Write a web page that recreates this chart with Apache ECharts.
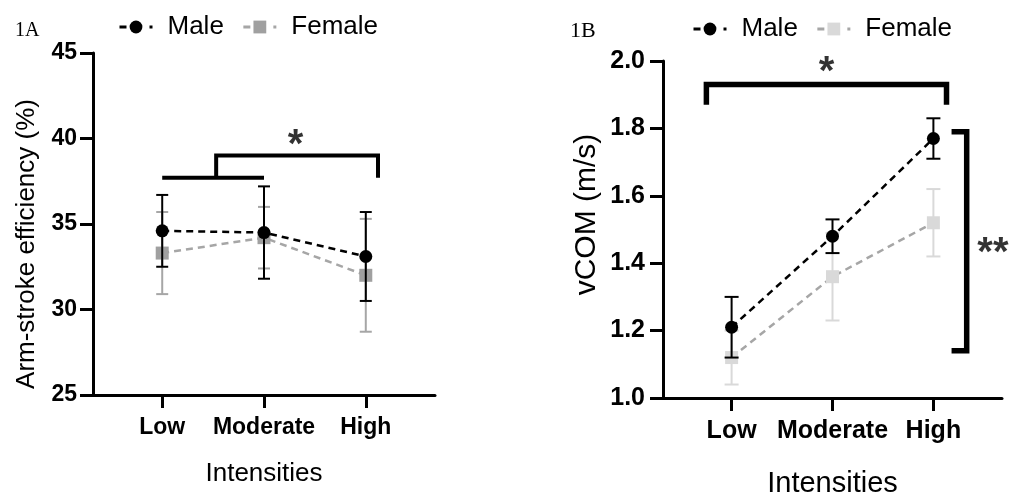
<!DOCTYPE html>
<html>
<head>
<meta charset="utf-8">
<script src="https://cdn.jsdelivr.net/npm/echarts@6/dist/echarts.min.js"></script>
<style>
  html, body { margin: 0; padding: 0; background: #fff; }
  #main { width: 1015px; height: 495px; }
</style>
</head>
<body>
<div id="main"></div>
<script>
// 强度分类
const categories = ['Low', 'Moderate', 'High'];
const xPos = [1, 2, 3];

// 1A 划臂效率 (%)
const maleEffMean = [34.6, 34.5, 33.1];
const maleEffSd = [2.1, 2.7, 2.6];
const femaleEffMean = [33.3, 34.2, 32.0];
const femaleEffSd = [2.4, 1.8, 3.3];
const effTicks = [25, 30, 35, 40, 45];

// 1B vCOM (m/s)
const maleVcomMean = [1.21, 1.48, 1.77];
const maleVcomSd = [0.09, 0.05, 0.06];
const femaleVcomMean = [1.12, 1.36, 1.52];
const femaleVcomSd = [0.08, 0.13, 0.10];
const vcomTicks = [1.0, 1.2, 1.4, 1.6, 1.8, 2.0];

// 显著性标记
const bracketA1 = [[1.0, 37.7], [2.0, 37.7]];
const bracketA2 = [[1.53, 37.7], [1.53, 39.0], [3.12, 39.0], [3.12, 37.7]];
const bracketB1 = [[0.75, 1.87], [0.75, 1.93], [3.13, 1.93], [3.13, 1.87]];
const bracketB2 = [[3.18, 1.79], [3.33, 1.79], [3.33, 1.14], [3.18, 1.14]];
const starsA = [[2.31, 40.1, '*']];
const starsB = [[1.94, 1.99, '*'], [3.59, 1.454, '**']];

const FONT = 'Liberation Sans, Arial, sans-serif';

const chart = echarts.init(document.getElementById('main'));

function errorBars(name, idx, means, sds, color, capW, z) {
    return {
        type: 'custom',
        name: name,
        xAxisIndex: idx,
        yAxisIndex: idx,
        z: z,
        silent: true,
        data: means.map((m, i) => [xPos[i], m - sds[i], m + sds[i]]),
        encode: { x: 0, y: [1, 2] },
        renderItem: function(params, api) {
            const lo = api.coord([api.value(0), api.value(1)]);
            const hi = api.coord([api.value(0), api.value(2)]);
            const h = capW / 2;
            const st = { stroke: color, lineWidth: 2 };
            return {
                type: 'group',
                children: [
                    { type: 'line', shape: { x1: lo[0], y1: lo[1], x2: hi[0], y2: hi[1] }, style: st },
                    { type: 'line', shape: { x1: hi[0] - h, y1: hi[1], x2: hi[0] + h, y2: hi[1] }, style: st },
                    { type: 'line', shape: { x1: lo[0] - h, y1: lo[1], x2: lo[0] + h, y2: lo[1] }, style: st }
                ]
            };
        }
    };
}

function meanLine(name, idx, means, lineColor, markColor, symbol, z) {
    return {
        type: 'line',
        name: name,
        xAxisIndex: idx,
        yAxisIndex: idx,
        z: z,
        data: means.map((m, i) => [xPos[i], m]),
        symbol: symbol,
        symbolSize: 13,
        lineStyle: { color: lineColor, width: 2.5, type: [7, 5] },
        itemStyle: { color: markColor },
        emphasis: { disabled: true }
    };
}

function bracket(idx, pts, width) {
    return {
        type: 'line',
        xAxisIndex: idx,
        yAxisIndex: idx,
        data: pts,
        symbol: 'none',
        silent: true,
        z: 6,
        lineStyle: { color: '#000', width: width, join: 'miter', cap: 'butt' }
    };
}

function stars(idx, pts) {
    return {
        type: 'scatter',
        xAxisIndex: idx,
        yAxisIndex: idx,
        data: pts,
        symbolSize: 1,
        silent: true,
        itemStyle: { color: 'rgba(0,0,0,0)' },
        label: {
            show: true,
            position: 'inside',
            formatter: p => p.value[2],
            fontFamily: FONT,
            fontWeight: 'bold',
            fontSize: 40,
            color: '#000',
            textBorderWidth: 0,
            offset: [0, 9]
        }
    };
}

function xAxisCfg(idx, labelSize, margin, nameSize, nameGap) {
    return {
        gridIndex: idx,
        type: 'value',
        min: 0.32,
        max: 3.68,
        splitLine: { show: false },
        axisLine: { lineStyle: { color: '#000', width: 3 } },
        axisTick: { customValues: xPos, length: 13, lineStyle: { width: 3, color: '#000' } },
        axisLabel: {
            customValues: xPos,
            formatter: v => categories[Math.round(v) - 1],
            fontFamily: FONT, fontWeight: 'bold', fontSize: labelSize, color: '#000', margin: margin
        },
        name: 'Intensities',
        nameLocation: 'middle',
        nameGap: nameGap,
        nameTextStyle: { fontFamily: FONT, fontSize: nameSize, color: '#000' }
    };
}

function yAxisCfg(idx, ticks, interval, name, labelSize, margin, nameSize, nameGap, namePad, digits) {
    return {
        gridIndex: idx,
        type: 'value',
        min: ticks[0],
        max: ticks[ticks.length - 1],
        interval: interval,
        splitLine: { show: false },
        axisLine: { show: true, lineStyle: { color: '#000', width: 3 } },
        axisTick: { show: true, length: 13, lineStyle: { width: 3, color: '#000' } },
        axisLabel: {
            formatter: v => v.toFixed(digits),
            fontFamily: FONT, fontWeight: 'bold', fontSize: labelSize, color: '#000', margin: margin
        },
        name: name,
        nameLocation: 'middle',
        nameGap: nameGap,
        nameTextStyle: { fontFamily: FONT, fontSize: nameSize, color: '#000', padding: namePad }
    };
}

function legendCfg(left, top, names) {
    return {
        left: left,
        top: top,
        selectedMode: false,
        data: names,
        itemWidth: 33,
        itemHeight: 16,
        itemGap: 18,
        formatter: n => n.split(' ')[0],
        lineStyle: { width: 3, type: [7, 23, 3, 10] },
        textStyle: { fontFamily: FONT, fontSize: 26, color: '#000', padding: [0, 0, 0, 10] }
    };
}

const option = {
    animation: false,
    backgroundColor: '#fff',
    title: [
        { text: '1A', left: 10, top: 16, textStyle: { fontFamily: 'Liberation Serif', fontSize: 20, fontWeight: 'normal', color: '#000' } },
        { text: '1B', left: 565, top: 15, textStyle: { fontFamily: 'Liberation Serif', fontSize: 22, fontWeight: 'normal', color: '#000' } }
    ],
    legend: [
        legendCfg(113, 9, ['Male A', 'Female A']),
        legendCfg(687, 11, ['Male B', 'Female B'])
    ],
    grid: [
        { left: 93, top: 53, width: 342, height: 342, outerBoundsMode: 'none' },
        { left: 663, top: 61, width: 339, height: 337, outerBoundsMode: 'none' }
    ],
    xAxis: [
        xAxisCfg(0, 23, 21, 26, 66),
        xAxisCfg(1, 25, 21, 29, 71)
    ],
    yAxis: [
        yAxisCfg(0, effTicks, 5, 'Arm-stroke efficiency (%)', 23, 16, 26, 53, [0, 40, 0, 0], 0),
        yAxisCfg(1, vcomTicks, 0.2, 'vCOM (m/s)', 25, 18, 30, 61, [0, 0, 0, 30], 1)
    ],
    series: [
        errorBars('Female A sd', 0, femaleEffMean, femaleEffSd, '#a6a6a6', 12, 2),
        meanLine('Female A', 0, femaleEffMean, '#a6a6a6', '#a0a0a0', 'rect', 3),
        errorBars('Male A sd', 0, maleEffMean, maleEffSd, '#000', 12, 4),
        meanLine('Male A', 0, maleEffMean, '#000', '#000', 'circle', 5),
        bracket(0, bracketA1, 4),
        bracket(0, bracketA2, 4),
        stars(0, starsA),

        errorBars('Female B sd', 1, femaleVcomMean, femaleVcomSd, '#d9d9d9', 14, 2),
        meanLine('Female B', 1, femaleVcomMean, '#a6a6a6', '#d9d9d9', 'rect', 3),
        errorBars('Male B sd', 1, maleVcomMean, maleVcomSd, '#000', 14, 4),
        meanLine('Male B', 1, maleVcomMean, '#000', '#000', 'circle', 5),
        bracket(1, bracketB1, 5.5),
        bracket(1, bracketB2, 5.5),
        stars(1, starsB)
    ]
};

chart.setOption(option);

window.addEventListener('resize', function() {
    chart.resize();
});
</script>
</body>
</html>
